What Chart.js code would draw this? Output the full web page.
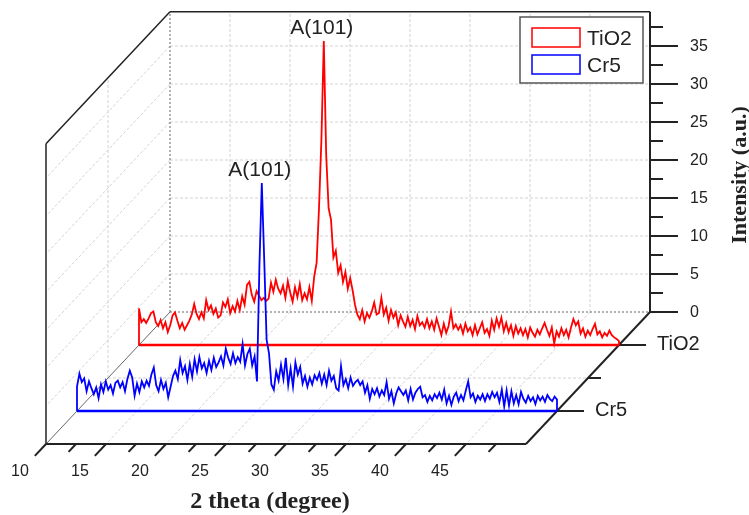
<!DOCTYPE html>
<html><head><meta charset="utf-8">
<script src="https://cdn.jsdelivr.net/npm/chart.js@4.4.1/dist/chart.umd.min.js"></script>
<style>html,body{margin:0;padding:0;background:#fff}canvas{display:block}</style>
</head><body>
<canvas id="c" width="749" height="515"></canvas>
<script>
// ---------- data ----------
const thetaStart = 10, thetaEnd = 50, thetaStep = 0.2;
const tio2 = [
4.8,3.0,3.4,2.9,3.5,4.2,4.4,3.0,2.5,3.3,
2.2,3.0,1.7,2.6,3.9,4.3,3.2,2.2,2.9,2.0,
2.6,3.2,4.0,5.4,4.1,3.4,4.3,3.5,5.9,4.6,
5.2,4.1,4.8,3.6,3.9,5.6,5.0,6.0,4.2,5.1,
4.4,5.8,4.6,6.4,5.3,7.9,8.3,6.6,5.7,7.1,
6.5,5.9,6.2,5.8,6.1,8.2,7.0,8.6,7.4,6.8,
7.8,6.2,8.4,6.9,5.7,7.6,6.3,8.0,5.9,6.8,
6.0,7.6,5.8,9.0,10.8,18.0,27.0,40.0,25.0,18.0,
16.5,11.5,12.4,9.5,10.5,8.3,9.6,7.4,8.8,7.2,
5.3,4.0,3.4,4.6,3.1,4.2,3.6,4.4,5.6,4.0,
4.2,6.2,4.0,4.9,3.2,4.6,3.6,4.3,2.6,3.9,
3.1,2.4,3.7,2.5,3.3,2.1,3.8,2.6,3.0,2.3,
3.4,2.2,3.1,2.0,3.5,2.4,1.3,2.8,1.6,2.5,
4.4,2.2,2.7,2.0,2.6,1.5,2.8,1.8,2.3,1.3,
2.6,1.4,2.2,3.0,1.6,2.1,1.2,3.2,2.0,3.5,
2.4,3.6,1.8,2.9,1.7,2.6,1.2,2.5,1.5,2.2,
1.3,2.1,1.0,2.3,1.6,1.1,2.0,1.4,2.2,2.9,
2.0,1.2,2.3,0.2,1.8,1.1,2.2,1.3,2.0,1.0,
2.3,3.4,2.6,3.1,1.5,2.2,1.1,1.9,1.3,2.1,
2.8,1.4,1.8,1.0,1.6,1.2,1.9,1.3,1.0,0.8,0.5
];
const cr5 = [
3.2,4.9,3.8,4.3,2.6,3.9,3.0,2.2,3.1,1.7,
3.5,2.5,3.9,2.8,3.4,2.3,3.7,4.0,3.1,3.8,
2.6,4.2,5.3,4.4,2.0,3.6,2.5,3.9,3.1,4.0,
3.3,4.8,5.7,3.4,2.6,4.1,2.9,3.7,1.8,3.2,
4.6,5.3,4.2,6.7,5.0,5.9,4.1,6.2,4.5,6.8,
5.2,7.1,5.6,6.3,5.0,6.6,5.4,7.0,5.8,6.4,
7.2,6.0,8.2,7.0,6.2,7.6,6.3,7.1,6.5,8.8,
6.0,7.5,8.2,6.0,7.2,3.9,19.0,30.0,20.0,9.4,
7.6,3.5,2.8,5.2,4.0,6.1,4.2,7.0,3.4,5.6,
3.2,6.4,4.8,5.8,3.6,4.6,3.2,4.4,3.5,4.7,
4.1,5.0,3.6,4.8,3.4,5.3,4.0,4.6,3.0,2.7,
5.9,3.4,4.2,3.0,4.4,3.3,3.8,4.1,3.4,3.9,
2.4,3.4,1.6,2.9,2.2,3.0,1.9,2.7,2.1,3.8,
1.6,2.6,1.0,2.3,3.1,2.6,2.1,2.7,1.4,2.9,
1.5,2.4,2.9,3.2,1.8,2.1,1.2,2.0,1.4,2.2,
1.7,2.4,1.5,2.8,1.0,2.0,0.8,1.9,2.4,1.3,
2.1,1.4,2.7,3.9,1.8,2.3,1.2,2.0,1.5,2.2,
1.3,2.2,1.6,2.5,1.8,2.4,1.2,2.8,0.6,2.7,
0.7,2.6,1.0,2.1,0.9,2.5,1.6,1.1,2.0,1.3,
1.8,0.9,2.0,1.4,1.9,1.2,2.1,1.6,1.3,1.9,1.5
];
const seriesNames = ['TiO2', 'Cr5'];
const seriesDepth = [0.25, 0.75];
const seriesColors = ['#ff0000', '#0000ff'];
const xTickValues = [10, 15, 20, 25, 30, 35, 40, 45];
const xTickLabels = ['10', '15', '20', '25', '30', '35', '40', '45'];
const yTickValues = [0, 5, 10, 15, 20, 25, 30, 35];
const yTickLabels = ['0', '5', '10', '15', '20', '25', '30', '35'];
const peakLabels = [
  {series: 0, theta: 25.4, text: 'A(101)'},
  {series: 1, theta: 25.4, text: 'A(101)'}
];
const xTitle = '2 theta (degree)';
const yTitle = 'Intensity (a.u.)';
const zTop = 39.5;

// ---------- oblique projection (in axis units) ----------
const DX = -124 / 12;     // depth shift in theta units
const DY = -132 / 7.6;    // depth shift in intensity units
const XMIN = 10 - 170 / 12, XMAX = XMIN + 749 / 12;
const YMAX = 312 / 7.6, YMIN = YMAX - 515 / 7.6;
function proj(t, v, d) { return {x: t + d * DX, y: v + d * DY}; }

function buildTrace(vals, d) {
  const pts = [proj(thetaStart, 0, d)];
  vals.forEach((v, i) => pts.push(proj(thetaStart + i * thetaStep, v, d)));
  pts.push(proj(thetaEnd, 0, d));
  return pts;
}
const allSeries = [tio2, cr5];

const datasets = [];
allSeries.forEach((vals, s) => {
  datasets.push({label: seriesNames[s], data: buildTrace(vals, seriesDepth[s]),
    borderColor: seriesColors[s], borderWidth: 1.8, showLine: true, pointRadius: 0,
    tension: 0, order: s === 0 ? 3 : 1});
  datasets.push({label: seriesNames[s] + ' base', data: [proj(thetaStart, 0, seriesDepth[s]), proj(thetaEnd, 0, seriesDepth[s])],
    borderColor: seriesColors[s], borderWidth: 2.4, showLine: true, pointRadius: 0,
    order: s === 0 ? 2 : 0});
});

const frame3d = {
  id: 'frame3d',
  beforeDatasetsDraw(chart) {
    const c = chart.ctx, xs = chart.scales.x, ys = chart.scales.y;
    const P = (t, v, d) => { const p = proj(t, v, d); return [xs.getPixelForValue(p.x), ys.getPixelForValue(p.y)]; };
    const L = (a, b) => { c.beginPath(); c.moveTo(a[0], a[1]); c.lineTo(b[0], b[1]); c.stroke(); };
    c.save();
    // light grid
    c.lineWidth = 1; c.strokeStyle = '#d2d2d2'; c.setLineDash([3, 2]);
    for (const v of yTickValues) { if (v === 0) continue;
      L(P(10, v, 0), P(50, v, 0)); L(P(10, v, 0), P(10, v, 1)); }
    for (const t of xTickValues) { if (t === 10) continue;
      L(P(t, 0, 0), P(t, zTop, 0)); L(P(t, 0, 0), P(t, 0, 1)); }
    L(P(10, 0, 0.5), P(10, zTop, 0.5));
    L(P(10, 0, 0.5), P(50, 0, 0.5));
    // back plane inner edges
    c.strokeStyle = '#666'; c.setLineDash([2, 2]);
    L(P(10, 0, 0), P(10, zTop, 0));
    L(P(10, 0, 0), P(50, 0, 0));
    c.setLineDash([]);
    c.strokeStyle = '#666'; c.lineWidth = 1;
    L(P(10, 0, 0), P(10, 0, 1));
    // solid frame
    c.strokeStyle = '#222'; c.lineWidth = 1.5;
    L(P(10, zTop, 0), P(50, zTop, 0));
    L(P(10, zTop, 0), P(10, zTop, 1));
    L(P(10, zTop, 1), P(10, 0, 1));
    c.lineWidth = 2;
    L(P(10, 0, 1), P(50, 0, 1));
    L(P(50, 0, 0), P(50, 0, 1));
    L(P(50, 0, 0), P(50, zTop, 0));
    // y ticks
    c.lineWidth = 2;
    for (let v = 0; v <= zTop; v += 2.5) {
      const p = P(50, v, 0); const major = Math.abs(v % 5) < 1e-9;
      L(p, [p[0] + (major ? 28 : 13), p[1]]);
    }
    c.fillStyle = '#222'; c.font = '16px "Liberation Sans", Arial, sans-serif';
    c.textAlign = 'left'; c.textBaseline = 'middle';
    yTickValues.forEach((v, i) => { const p = P(50, v, 0); c.fillText(yTickLabels[i], p[0] + 40, p[1] + 1); });
    // x ticks on front edge
    for (let t = 10; t <= 47.5; t += 2.5) {
      const major = Math.abs(t % 5) < 1e-9;
      L(P(t, 0, 1), P(t, 0, 1 + (major ? 0.09 : 0.06)));
    }
    c.textAlign = 'center';
    xTickValues.forEach((t, i) => { const p = P(t, 0, 1.21); c.fillText(xTickLabels[i], p[0], p[1]); });
    // depth ticks
    [0.25, 0.5, 0.75].forEach(d => { const p = P(50, 0, d); L(p, [p[0] + (d === 0.5 ? 13 : 27), p[1]]); });
    c.font = '20px "Liberation Sans", Arial, sans-serif'; c.textAlign = 'left';
    seriesNames.forEach((n, s) => { const p = P(50, 0, seriesDepth[s]); c.fillText(n, p[0] + 38, p[1] - 1); });
    // titles
    c.font = 'bold 24px "Liberation Serif", "Times New Roman", serif'; c.textAlign = 'center';
    c.fillText(xTitle, 270, 502);
    c.save(); c.translate(740, 175); c.rotate(-Math.PI / 2);
    c.font = 'bold 22px "Liberation Serif", "Times New Roman", serif';
    c.fillText(yTitle, 0, 0); c.restore();
    c.restore();
  },
  afterDatasetsDraw(chart) {
    const c = chart.ctx, xs = chart.scales.x, ys = chart.scales.y;
    const P = (t, v, d) => { const p = proj(t, v, d); return [xs.getPixelForValue(p.x), ys.getPixelForValue(p.y)]; };
    c.save();
    // peak labels
    c.fillStyle = '#222'; c.font = '21px "Liberation Sans", Arial, sans-serif';
    c.textAlign = 'center'; c.textBaseline = 'bottom';
    peakLabels.forEach(pl => {
      const vals = allSeries[pl.series];
      const i = Math.round((pl.theta - thetaStart) / thetaStep);
      const p = P(pl.theta, vals[i], seriesDepth[pl.series]);
      c.fillText(pl.text, p[0] - 2, p[1] - 2);
    });
    // legend
    c.fillStyle = '#fff'; c.strokeStyle = '#555'; c.lineWidth = 1.5;
    c.fillRect(520, 17, 123, 66); c.strokeRect(520, 17, 123, 66);
    c.font = '21px "Liberation Sans", Arial, sans-serif'; c.textAlign = 'left'; c.textBaseline = 'middle';
    seriesNames.forEach((n, s) => {
      const y = 38 + s * 27;
      c.strokeStyle = seriesColors[s]; c.lineWidth = 1.5;
      c.strokeRect(532, y - 10, 48, 19);
      c.fillStyle = '#222'; c.fillText(n, 587, y + 1);
    });
    c.restore();
  }
};

new Chart(document.getElementById('c'), {
  type: 'scatter',
  data: {datasets},
  options: {
    responsive: false, animation: false, events: [],
    layout: {padding: 0},
    plugins: {legend: {display: false}, tooltip: {enabled: false}, title: {display: false}},
    scales: {
      x: {type: 'linear', min: XMIN, max: XMAX, display: false},
      y: {type: 'linear', min: YMIN, max: YMAX, display: false}
    }
  },
  plugins: [frame3d]
});
</script>
</body></html>
